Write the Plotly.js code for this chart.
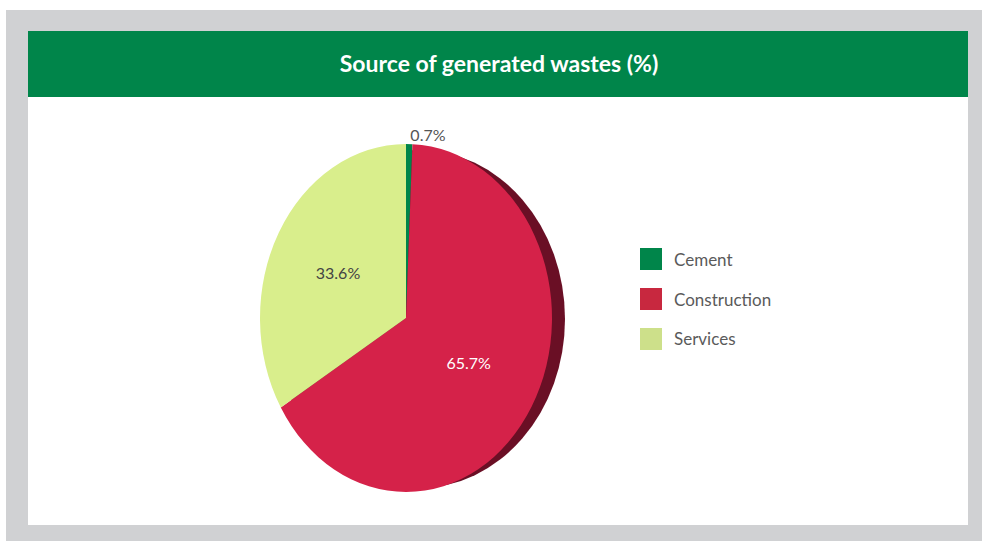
<!DOCTYPE html>
<html>
<head>
<meta charset="utf-8">
<script src="https://cdn.plot.ly/plotly-3.0.1.min.js"></script>
<style>
html,body{margin:0;padding:0;background:#fff;}
#chart{width:982px;height:541px;}
</style>
</head>
<body>
<div id="chart"></div>
<script>
// ---- data ----
const categories = ["Cement", "Construction", "Services"];
const shares = [0.7, 65.7, 33.6];
const sliceColors = ["#00854a", "#d52249", "#d9ee8c"];
const legendColors = ["#00854a", "#c8283f", "#cde08a"];
const textColors = ["#555555", "#ffffff", "#444444"];
const chartTitle = "Source of generated wastes (%)";

// ---- geometry (px) ----
const W = 982, H = 541;
const faceCx = 406, faceCy = 318, faceRy = 174, faceRx = 146;
const sx = faceRx / faceRy;
const px = v => v / W;
const py = v => (H - v) / H;

const FONT = "Lato, 'Noto Sans', sans-serif";

const trace = {
  type: "pie",
  labels: categories,
  values: shares,
  sort: false,
  direction: "clockwise",
  rotation: 0,
  marker: {colors: sliceColors, line: {width: 0}},
  texttemplate: "%{value:.1f}%",
  textposition: ["outside", "inside", "inside"],
  insidetextorientation: "horizontal",
  textfont: {family: FONT, size: 16, color: textColors},
  outsidetextfont: {family: FONT, size: 16, color: "#555555"},
  hoverinfo: "label+value",
  showlegend: false,
  domain: {
    x: [px(faceCx - faceRy), px(faceCx + faceRy)],
    y: [py(faceCy + faceRy), py(faceCy - faceRy)]
  }
};

const layout = {
  width: W, height: H,
  margin: {l: 0, r: 0, t: 0, b: 0},
  paper_bgcolor: "#ffffff",
  showlegend: false,
  title: {
    text: "<b>" + chartTitle + "</b>",
    font: {family: FONT, size: 23, color: "#ffffff"},
    x: px(499), xref: "paper", xanchor: "center",
    y: py(64), yref: "paper", yanchor: "middle"
  },
  shapes: [
    {type: "rect", xref: "paper", yref: "paper", x0: px(6), x1: 1, y0: 0, y1: py(10), fillcolor: "#d0d1d3", line: {width: 0}, layer: "below"},
    {type: "rect", xref: "paper", yref: "paper", x0: px(28), x1: px(968), y0: py(525), y1: py(97), fillcolor: "#ffffff", line: {width: 0}, layer: "below"},
    {type: "rect", xref: "paper", yref: "paper", x0: px(28), x1: px(968), y0: py(97), y1: py(31), fillcolor: "#00854a", line: {width: 0}, layer: "below"},
    // 3D rim of the pie
    {type: "circle", xref: "paper", yref: "paper", x0: px(faceCx - faceRx + 13), x1: px(faceCx + faceRx + 13), y0: py(faceCy + faceRy - 4), y1: py(faceCy - faceRy + 6), fillcolor: "#6a0f25", line: {width: 0}, layer: "below"}
  ],
  annotations: []
};

// legend built from the categories
const legX = 640, legY0 = 259, legGap = 40, sq = 22;
categories.forEach((c, i) => {
  const yc = legY0 + i * legGap;
  layout.shapes.push({type: "rect", xref: "paper", yref: "paper",
    x0: px(legX), x1: px(legX + sq), y0: py(yc + sq / 2), y1: py(yc - sq / 2),
    fillcolor: legendColors[i], line: {width: 0}, layer: "above"});
  layout.annotations.push({xref: "paper", yref: "paper", x: px(legX + sq + 10), y: py(yc),
    xanchor: "left", yanchor: "middle", showarrow: false, text: c,
    font: {family: FONT, size: 17, color: "#5a5a5a"}});
});

const gd = document.getElementById("chart");
Plotly.newPlot(gd, [trace], layout, {displayModeBar: false, staticPlot: true}).then(() => {
  // squeeze the circular pie into the elliptical face of the original
  const cd0 = gd.calcdata[0][0];
  const cx = cd0.cx, cy = cd0.cy;
  const tf = `translate(${cx},${cy}) scale(${sx},1) translate(${-cx},${-cy})`;
  gd.querySelectorAll(".pielayer path.surface").forEach(p => p.setAttribute("transform", tf));
  const box = gd.getBoundingClientRect();
  gd.querySelectorAll(".pielayer g.slicetext").forEach(g => {
    const r = g.getBoundingClientRect();
    const mx = r.left + r.width / 2 - box.left;
    const nx = cx + sx * (mx - cx);
    g.setAttribute("transform", `translate(${nx - mx},0)`);
  });
});
</script>
</body>
</html>
